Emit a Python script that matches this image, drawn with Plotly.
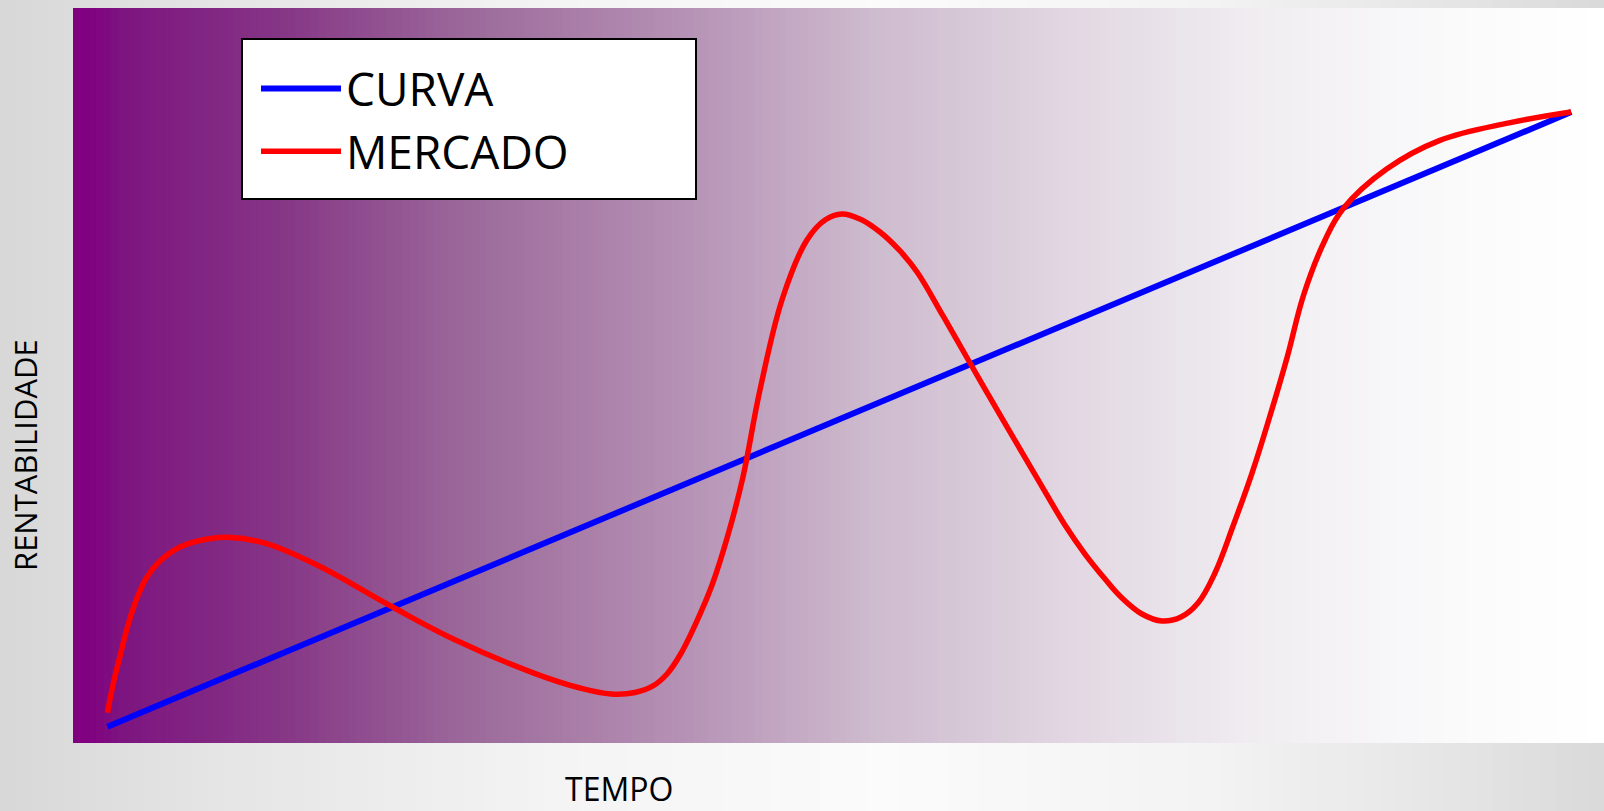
import plotly.graph_objects as go

# ---- data (TEMPO 0-100, RENTABILIDADE 0-100) ----
curva_x = [2.25, 97.86]
curva_y = [2.22, 85.84]

mercado_x = [2.25, 2.61, 3.07, 3.59, 4.18, 4.83, 5.68, 6.99, 8.62, 10.12,
             12.58, 15.94, 20.84, 24.98, 30.14, 33.12, 35.14, 36.71, 37.88, 38.80,
             39.65, 40.63, 41.74, 42.78, 43.76, 44.87, 46.37, 47.94, 49.12, 50.23,
             51.40, 52.71, 54.02, 55.13, 56.83, 58.59, 60.74, 62.97, 64.79, 66.10,
             67.41, 68.45, 69.82, 71.13, 72.37, 73.48, 74.59, 75.77, 77.01, 78.12,
             79.31, 80.40, 81.78, 82.97, 85.78, 89.24, 93.80, 97.85]
mercado_y = [4.12, 7.89, 11.84, 16.05, 19.73, 22.59, 24.76, 26.67, 27.69, 27.99,
             27.17, 24.22, 18.54, 14.01, 9.48, 7.48, 6.67, 6.87, 7.76, 9.39,
             11.97, 16.05, 21.50, 28.30, 36.19, 48.03, 60.68, 68.44, 71.16, 71.97,
             71.29, 69.52, 66.94, 64.08, 58.10, 51.70, 43.95, 36.05, 29.66, 25.71,
             22.31, 19.86, 17.55, 16.60, 17.14, 19.05, 23.13, 29.52, 36.73, 44.08,
             52.52, 61.09, 68.44, 72.71, 78.05, 81.95, 84.37, 85.85]

series_names = ["CURVA", "MERCADO"]
x_title = "TEMPO"
y_title = "RENTABILIDADE"

# ---- styling ----
W, H = 1604, 811
L, R, T, B = 73, 0, 8, 68
PW, PH = W - L - R, H - T - B
FONT = "Open Sans"

plot_stops = [(0.0, (128, 0, 128)), (0.015, (128, 4, 128)), (0.03, (125, 20, 128)),
              (0.13, (133, 52, 133)), (0.26, (156, 106, 155)), (0.39, (180, 143, 179)),
              (0.52, (205, 186, 206)), (0.65, (226, 215, 226)), (0.78, (241, 238, 242)),
              (0.90, (250, 250, 251)), (1.0, (255, 255, 255))]
page_stops = [(0.0, (216, 216, 216)), (0.15, (230, 230, 230)), (0.35, (244, 244, 244)),
              (0.55, (251, 251, 251)), (0.75, (243, 243, 243)), (0.9, (230, 230, 230)),
              (1.0, (217, 217, 217))]


def interp(stops, t):
    for (t0, c0), (t1, c1) in zip(stops[:-1], stops[1:]):
        if t0 <= t <= t1:
            f = (t - t0) / (t1 - t0) if t1 > t0 else 0
            return "rgb(%d,%d,%d)" % tuple(round(a + (b - a) * f) for a, b in zip(c0, c1))
    return "rgb(%d,%d,%d)" % stops[-1][1]


def px_to_paper_x(px):
    return (px - L) / PW


def px_to_paper_y(py):
    return (H - B - py) / PH


shapes = []
# page background gradient
n_page = 100
for i in range(n_page):
    x0 = i * W / n_page
    x1 = (i + 1) * W / n_page + 1
    shapes.append(dict(type="rect", xref="paper", yref="paper",
                       x0=px_to_paper_x(x0), x1=px_to_paper_x(x1),
                       y0=px_to_paper_y(H), y1=px_to_paper_y(0),
                       fillcolor=interp(page_stops, (i + 0.5) / n_page),
                       line=dict(width=0), layer="below"))
# plot area gradient
n_plot = 200
for i in range(n_plot):
    x0 = i / n_plot
    x1 = min((i + 1) / n_plot + 0.002, 1.0)
    shapes.append(dict(type="rect", xref="paper", yref="paper",
                       x0=x0, x1=x1, y0=0, y1=1,
                       fillcolor=interp(plot_stops, (i + 0.5) / n_plot),
                       line=dict(width=0), layer="below"))
# legend box
shapes.append(dict(type="rect", xref="paper", yref="paper",
                   x0=px_to_paper_x(242), x1=px_to_paper_x(696),
                   y0=px_to_paper_y(199), y1=px_to_paper_y(39),
                   fillcolor="white", line=dict(color="black", width=2), layer="below"))

fig = go.Figure()
fig.add_trace(go.Scatter(x=curva_x, y=curva_y, mode="lines", name=series_names[0],
                         line=dict(color="#0000ff", width=6)))
fig.add_trace(go.Scatter(x=mercado_x, y=mercado_y, mode="lines", name=series_names[1],
                         line=dict(color="#ff0000", width=5.5, shape="spline", smoothing=1.1)))

fig.update_layout(
    width=W, height=H,
    margin=dict(l=L, r=R, t=T, b=B, pad=0),
    paper_bgcolor="#e6e6e6",
    plot_bgcolor="rgba(0,0,0,0)",
    shapes=shapes,
    showlegend=True,
    legend=dict(x=px_to_paper_x(256), y=px_to_paper_y(52), xanchor="left", yanchor="top",
                bgcolor="rgba(0,0,0,0)", borderwidth=0,
                font=dict(family=FONT, size=46, color="black"),
                itemwidth=80, tracegroupgap=0),
    xaxis=dict(range=[0, 100], visible=False, fixedrange=True),
    yaxis=dict(range=[0, 100], visible=False, fixedrange=True),
    annotations=[
        dict(text=x_title, xref="paper", yref="paper",
             x=px_to_paper_x(619), y=px_to_paper_y(788), xanchor="center", yanchor="middle",
             showarrow=False, font=dict(family=FONT, size=32, color="black")),
        dict(text=y_title, xref="paper", yref="paper", textangle=-90,
             x=px_to_paper_x(25), y=px_to_paper_y(455), xanchor="center", yanchor="middle",
             showarrow=False, font=dict(family=FONT, size=31, color="black")),
    ],
)

fig.write_html("out.html", config={"displayModeBar": False},
               post_script="document.body.style.margin='0px';document.body.style.overflow='hidden';")
